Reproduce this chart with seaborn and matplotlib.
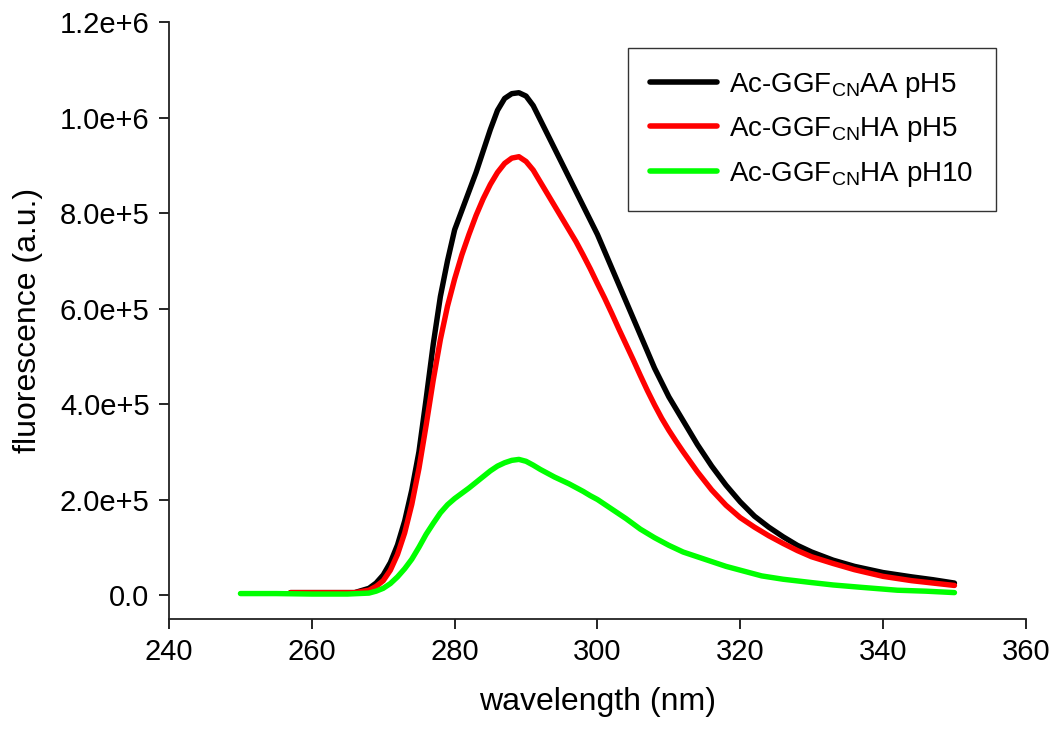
import numpy as np
import pandas as pd
import matplotlib
matplotlib.use('Agg')
import matplotlib.pyplot as plt
from matplotlib.ticker import FuncFormatter
import seaborn as sns

# wavelength (nm) and fluorescence (a.u.)
wl_aa5 = [257, 262, 266, 268, 269, 270, 271, 272, 273, 274, 275, 276, 277, 278, 279,
          280, 281, 282, 283, 284, 285, 286, 287, 288, 289, 290, 291, 292, 293, 294,
          295, 296, 297, 298, 299, 300, 301, 302, 303, 304, 305, 306, 307, 308, 309,
          310, 311, 312, 314, 316, 318, 320, 322, 324, 326, 328, 330, 333, 336, 340,
          344, 347, 350]
fl_aa5 = [5e3, 5e3, 5e3, 1.4e4, 2.5e4, 4.2e4, 6.8e4, 1.05e5, 1.55e5, 2.2e5, 3.0e5,
          4.1e5, 5.25e5, 6.25e5, 7.0e5, 7.65e5, 8.05e5, 8.45e5, 8.85e5, 9.3e5, 9.75e5,
          1.015e6, 1.04e6, 1.05e6, 1.052e6, 1.045e6, 1.025e6, 9.95e5, 9.65e5, 9.35e5,
          9.05e5, 8.75e5, 8.45e5, 8.15e5, 7.85e5, 7.55e5, 7.2e5, 6.85e5, 6.5e5,
          6.15e5, 5.8e5, 5.45e5, 5.1e5, 4.75e5, 4.45e5, 4.15e5, 3.9e5, 3.65e5,
          3.15e5, 2.7e5, 2.3e5, 1.95e5, 1.65e5, 1.42e5, 1.22e5, 1.04e5, 9.0e4,
          7.3e4, 6.0e4, 4.7e4, 3.8e4, 3.2e4, 2.5e4]

wl_ha5 = [257, 262, 266, 268, 269, 270, 271, 272, 273, 274, 275, 276, 277, 278, 279,
          280, 281, 282, 283, 284, 285, 286, 287, 288, 289, 290, 291, 292, 293, 294,
          295, 296, 297, 298, 299, 300, 301, 302, 303, 304, 305, 306, 307, 308, 309,
          310, 311, 312, 314, 316, 318, 320, 322, 324, 326, 328, 330, 333, 336, 340,
          344, 347, 350]
fl_ha5 = [5e3, 5e3, 5e3, 1.0e4, 1.8e4, 3.0e4, 5.2e4, 8.5e4, 1.3e5, 1.9e5, 2.65e5,
          3.55e5, 4.5e5, 5.35e5, 6.05e5, 6.62e5, 7.12e5, 7.55e5, 7.95e5, 8.3e5,
          8.6e5, 8.85e5, 9.04e5, 9.15e5, 9.18e5, 9.08e5, 8.9e5, 8.65e5, 8.4e5,
          8.15e5, 7.9e5, 7.65e5, 7.4e5, 7.12e5, 6.83e5, 6.52e5, 6.22e5, 5.9e5,
          5.57e5, 5.25e5, 4.93e5, 4.6e5, 4.28e5, 3.98e5, 3.7e5, 3.45e5, 3.22e5,
          3.0e5, 2.58e5, 2.2e5, 1.88e5, 1.62e5, 1.42e5, 1.24e5, 1.08e5, 9.3e4,
          8.0e4, 6.6e4, 5.3e4, 3.9e4, 3.0e4, 2.5e4, 2.0e4]

wl_ha10 = [250, 255, 260, 265, 268, 269, 270, 271, 272, 273, 274, 275, 276, 277, 278,
           279, 280, 281, 282, 283, 284, 285, 286, 287, 288, 289, 290, 291, 292, 293,
           294, 295, 296, 297, 298, 299, 300, 302, 304, 306, 308, 310, 312, 314, 316,
           318, 320, 323, 326, 330, 333, 337, 342, 346, 350]
fl_ha10 = [3e3, 3e3, 2e3, 2e3, 4e3, 8e3, 1.4e4, 2.4e4, 3.8e4, 5.5e4, 7.5e4, 1.0e5,
           1.27e5, 1.5e5, 1.72e5, 1.89e5, 2.02e5, 2.13e5, 2.24e5, 2.36e5, 2.48e5,
           2.6e5, 2.7e5, 2.77e5, 2.82e5, 2.84e5, 2.8e5, 2.72e5, 2.63e5, 2.55e5,
           2.47e5, 2.4e5, 2.33e5, 2.25e5, 2.17e5, 2.08e5, 2.0e5, 1.8e5, 1.6e5,
           1.38e5, 1.2e5, 1.04e5, 9.0e4, 8.0e4, 7.0e4, 6.0e4, 5.2e4, 4.0e4, 3.3e4,
           2.6e4, 2.1e4, 1.6e4, 1.0e4, 8e3, 5e3]

labels = ['Ac-GGF$_{\\mathrm{CN}}$AA pH5',
          'Ac-GGF$_{\\mathrm{CN}}$HA pH5',
          'Ac-GGF$_{\\mathrm{CN}}$HA pH10']
colors = ['#000000', '#ff0000', '#00ff00']

df = pd.concat([
    pd.DataFrame({'wl': wl_aa5, 'fl': fl_aa5, 'sample': labels[0]}),
    pd.DataFrame({'wl': wl_ha5, 'fl': fl_ha5, 'sample': labels[1]}),
    pd.DataFrame({'wl': wl_ha10, 'fl': fl_ha10, 'sample': labels[2]}),
])

sns.set_style('ticks')
plt.rcParams['font.family'] = ['Liberation Sans', 'DejaVu Sans']
plt.rcParams['mathtext.fontset'] = 'custom'
plt.rcParams['mathtext.rm'] = 'Liberation Sans'
plt.rcParams['mathtext.it'] = 'Liberation Sans'
plt.rcParams['text.color'] = 'black'

fig = plt.figure(figsize=(10.5, 7.35), dpi=100)
ax = fig.add_axes([0.161, 0.158, 0.816, 0.812])

sns.lineplot(data=df, x='wl', y='fl', hue='sample', hue_order=labels,
             palette=colors, linewidth=3.9, ax=ax, sort=False)

ax.set_xlim(240, 360)
ax.set_ylim(-5e4, 1.2e6)
ax.set_xticks(np.arange(240, 361, 20))
ax.set_yticks(np.arange(0, 1.21e6, 2e5))


def sci(v, pos):
    if v == 0:
        return '0.0'
    e = int(np.floor(np.log10(abs(v)) + 1e-9))
    return f'{v / 10**e:.1f}e+{e}'


ax.yaxis.set_major_formatter(FuncFormatter(sci))
ax.tick_params(labelsize=21, length=7, width=1.2, direction='out', pad=7,
               colors='black')
for s in ['top', 'right']:
    ax.spines[s].set_visible(False)
for s in ['left', 'bottom']:
    ax.spines[s].set_linewidth(1.3)
    ax.spines[s].set_color('#222222')

ax.set_xlabel('wavelength (nm)', fontsize=23, labelpad=15, color='black')
ax.set_ylabel('fluorescence (a.u.)', fontsize=23, labelpad=12, color='black')

leg = ax.legend(loc='upper right', bbox_to_anchor=(0.965, 0.956), fontsize=20,
                frameon=True, fancybox=False, edgecolor='black', handlelength=2.4,
                borderpad=0.8, labelspacing=0.56, handletextpad=0.45, borderaxespad=0)
leg.get_frame().set_linewidth(1.0)
for line in leg.get_lines():
    line.set_linewidth(4.0)

fig.savefig('out.png', dpi=100)
